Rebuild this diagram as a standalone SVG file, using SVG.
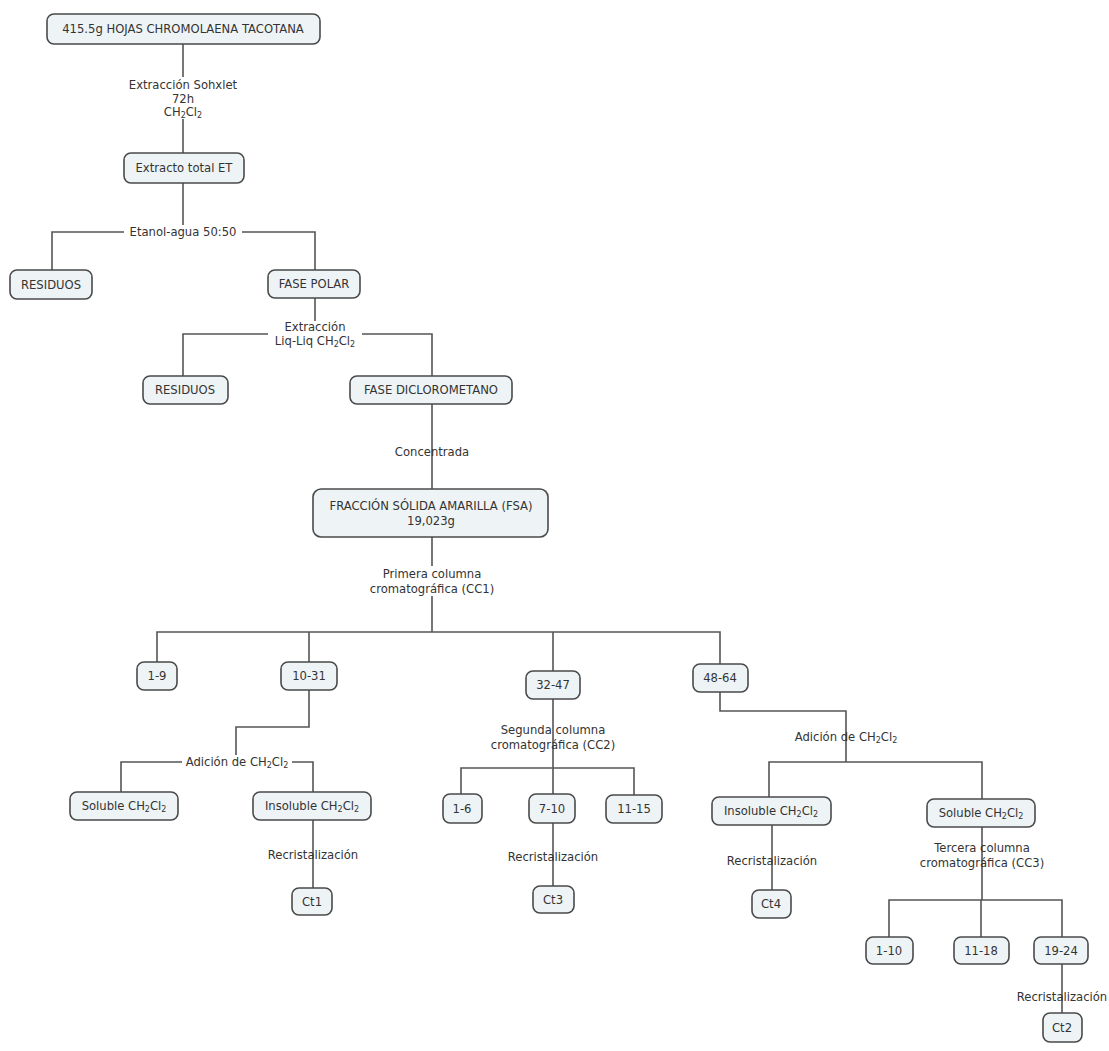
<svg xmlns="http://www.w3.org/2000/svg" width="1109" height="1051" viewBox="0 0 1109 1051">
<style>
.n rect{fill:#eef3f6;stroke:#4a4a4a;stroke-width:1.6}
text{font-family:"DejaVu Sans","Verdana",sans-serif;font-size:11.6px;fill:#333;text-anchor:middle}
.c path{fill:none;stroke:#555;stroke-width:1.6}
.lb{fill:#fff}
.s{font-size:8px}
</style>
<rect width="1109" height="1051" fill="#fff"/>
<g class="c">
<path d="M183 44V153"/>
<path d="M183 183V232M52 270V232H315V270"/>
<path d="M315 298V334M183 376V334H432V376"/>
<path d="M432 404V489"/>
<path d="M432 537V632M157 662V632H720V664M309 632V662M553 632V671"/>
<path d="M309 690V727H236V762M121 792V762H313V792"/>
<path d="M313 820V888"/>
<path d="M553 699V794M461 794V768H634V795"/>
<path d="M553 823V886"/>
<path d="M720 692V711H846V762M769 797V762H982V799"/>
<path d="M772 825V890"/>
<path d="M982 827V900M889 937V900H1062V937M981 900V937"/>
<path d="M1062 964V1013"/>
</g>
<g id="labels">
<rect class="lb" x="115" y="77" width="136" height="42"/>
<text x="183" y="89">Extracción Sohxlet</text>
<text x="183" y="103">72h</text>
<text x="183" y="116">CH<tspan class="s" dy="2">2</tspan><tspan dy="-2">Cl</tspan><tspan class="s" dy="2">2</tspan></text>
<rect class="lb" x="124" y="225" width="118" height="14"/>
<text x="183" y="236">Etanol-agua 50:50</text>
<rect class="lb" x="268" y="321" width="94" height="26"/>
<text x="315" y="331">Extracción</text>
<text x="315" y="345">Liq-Liq CH<tspan class="s" dy="2">2</tspan><tspan dy="-2">Cl</tspan><tspan class="s" dy="2">2</tspan></text>
<text x="432" y="456">Concentrada</text>
<rect class="lb" x="366" y="566" width="132" height="30"/>
<text x="432" y="578">Primera columna</text>
<text x="432" y="593">cromatográfica (CC1)</text>
<rect class="lb" x="182" y="755" width="110" height="14"/>
<text x="237" y="766">Adición de CH<tspan class="s" dy="2">2</tspan><tspan dy="-2">Cl</tspan><tspan class="s" dy="2">2</tspan></text>
<text x="313" y="859">Recristalización</text>
<text x="553" y="734">Segunda columna</text>
<text x="553" y="749">cromatográfica (CC2)</text>
<text x="553" y="861">Recristalización</text>
<text x="846" y="741">Adición de CH<tspan class="s" dy="2">2</tspan><tspan dy="-2">Cl</tspan><tspan class="s" dy="2">2</tspan></text>
<text x="772" y="865">Recristalización</text>
<text x="982" y="852">Tercera columna</text>
<text x="982" y="867">cromatográfica (CC3)</text>
<text x="1062" y="1001">Recristalización</text>
</g>
<g id="n1" class="n"><rect x="47" y="14" width="273" height="30" rx="7"/><text x="183" y="33">415.5g HOJAS CHROMOLAENA TACOTANA</text></g>
<g id="n2" class="n"><rect x="124" y="153" width="120" height="30" rx="7"/><text x="184" y="172">Extracto total ET</text></g>
<g id="n3" class="n"><rect x="10" y="270" width="82" height="29" rx="7"/><text x="51" y="289">RESIDUOS</text></g>
<g id="n4" class="n"><rect x="268" y="270" width="92" height="28" rx="7"/><text x="314" y="288">FASE POLAR</text></g>
<g id="n5" class="n"><rect x="143" y="376" width="85" height="28" rx="7"/><text x="185" y="394">RESIDUOS</text></g>
<g id="n6" class="n"><rect x="350" y="376" width="162" height="28" rx="7"/><text x="431" y="394">FASE DICLOROMETANO</text></g>
<g id="n7" class="n"><rect x="313" y="489" width="235" height="48" rx="8"/><text x="431" y="510">FRACCIÓN SÓLIDA AMARILLA (FSA)</text><text x="431" y="525">19,023g</text></g>
<g id="n8" class="n"><rect x="137" y="662" width="40" height="28" rx="7"/><text x="157" y="680">1-9</text></g>
<g id="n9" class="n"><rect x="281" y="662" width="56" height="28" rx="7"/><text x="309" y="680">10-31</text></g>
<g id="n10" class="n"><rect x="526" y="671" width="54" height="28" rx="7"/><text x="553" y="689">32-47</text></g>
<g id="n11" class="n"><rect x="693" y="664" width="55" height="28" rx="7"/><text x="720" y="682">48-64</text></g>
<g id="n12" class="n"><rect x="70" y="792" width="108" height="28" rx="7"/><text x="124" y="810">Soluble CH<tspan class="s" dy="2">2</tspan><tspan dy="-2">Cl</tspan><tspan class="s" dy="2">2</tspan></text></g>
<g id="n13" class="n"><rect x="253" y="792" width="118" height="28" rx="7"/><text x="312" y="810">Insoluble CH<tspan class="s" dy="2">2</tspan><tspan dy="-2">Cl</tspan><tspan class="s" dy="2">2</tspan></text></g>
<g id="n14" class="n"><rect x="292" y="888" width="40" height="27" rx="7"/><text x="312" y="906">Ct1</text></g>
<g id="n15" class="n"><rect x="443" y="794" width="39" height="29" rx="7"/><text x="462" y="813">1-6</text></g>
<g id="n16" class="n"><rect x="529" y="794" width="46" height="29" rx="7"/><text x="552" y="813">7-10</text></g>
<g id="n17" class="n"><rect x="606" y="795" width="56" height="28" rx="7"/><text x="634" y="813">11-15</text></g>
<g id="n18" class="n"><rect x="533" y="886" width="41" height="27" rx="7"/><text x="553" y="904">Ct3</text></g>
<g id="n19" class="n"><rect x="712" y="797" width="119" height="28" rx="7"/><text x="771" y="815">Insoluble CH<tspan class="s" dy="2">2</tspan><tspan dy="-2">Cl</tspan><tspan class="s" dy="2">2</tspan></text></g>
<g id="n20" class="n"><rect x="927" y="799" width="108" height="28" rx="7"/><text x="981" y="817">Soluble CH<tspan class="s" dy="2">2</tspan><tspan dy="-2">Cl</tspan><tspan class="s" dy="2">2</tspan></text></g>
<g id="n21" class="n"><rect x="752" y="890" width="39" height="28" rx="7"/><text x="771" y="908">Ct4</text></g>
<g id="n22" class="n"><rect x="866" y="937" width="47" height="27" rx="7"/><text x="889" y="955">1-10</text></g>
<g id="n23" class="n"><rect x="954" y="937" width="55" height="27" rx="7"/><text x="981" y="955">11-18</text></g>
<g id="n24" class="n"><rect x="1034" y="937" width="54" height="27" rx="7"/><text x="1061" y="955">19-24</text></g>
<g id="n25" class="n"><rect x="1043" y="1013" width="39" height="29" rx="7"/><text x="1062" y="1032">Ct2</text></g>
</svg>
